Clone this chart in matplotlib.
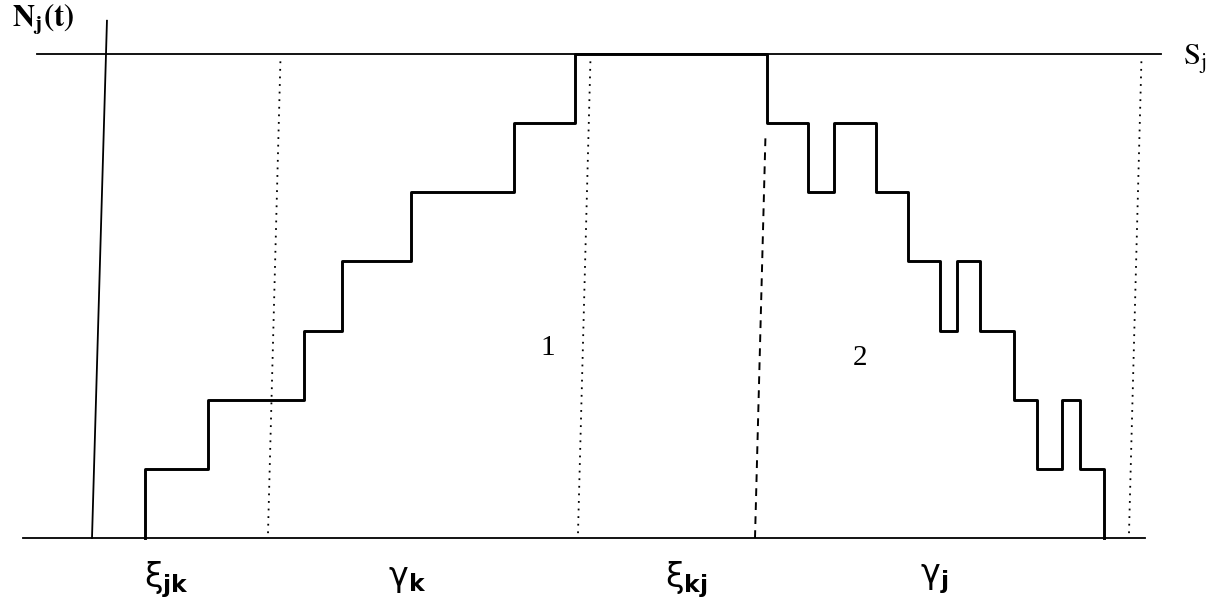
import matplotlib.pyplot as plt

plt.rcParams['mathtext.fontset'] = 'stix'
plt.rcParams['font.family'] = ['Liberation Serif', 'DejaVu Serif']

# Step path N_j(t): times of each jump and the level reached after it
jump_times = [145, 208, 304, 342, 411, 514, 575,
              767, 808, 834, 876, 908, 940, 957, 980, 1014, 1037, 1062, 1080, 1104]
jump_levels = [1, 2, 3, 4, 5, 6, 7,
               6, 5, 6, 5, 4, 3, 4, 3, 2, 1, 2, 1, 0]
S_j = 7

# Guide lines on the time axis
dotted_times = [268, 578, 1129]
dashed_time = 755
dashed_top = 5.85

# Labels on the time axis
interval_labels = [r'$\mathrm{\xi}_{\mathbf{jk}}$', r'$\mathrm{\gamma}_{\mathbf{k}}$',
                   r'$\mathrm{\xi}_{\mathbf{kj}}$', r'$\mathrm{\gamma}_{\mathbf{j}}$']
interval_pos = [167, 407, 686, 934]

# Region numbers
region_labels = ['1', '2']
region_pos = [(548, 2.75), (860, 2.6)]

lean = 1.8  # slight tilt of the scanned vertical lines (x units per level)

fig = plt.figure(figsize=(12.18, 6.03), dpi=100)
ax = fig.add_axes([0, 0, 1, 1])
ax.set_xlim(0, 1218)
ax.set_ylim(-0.94, 7.78)
ax.axis('off')

# axes
ax.plot([23, 1145], [0, 0], color='black', lw=1.3)
ax.plot([37, 1161], [S_j, S_j], color='black', lw=1.3)
ax.plot([92, 92 + 2.0 * 7.48], [0, 7.48], color='black', lw=1.3)

# dotted and dashed guides
for t in dotted_times:
    ax.plot([t, t + lean * 6.9], [0.07, 6.9], color='black', lw=1.3,
            linestyle=(0, (1, 3.2)))
ax.plot([dashed_time, dashed_time + lean * dashed_top], [0, dashed_top],
        color='black', lw=1.4, linestyle=(0, (4, 3.2)))

# staircase
xs = [jump_times[0]] + jump_times
ys = [0] + jump_levels
ax.step(xs, ys, where='post', color='black', lw=2.1)

# text
ax.text(12, 7.5, r'$\mathbf{N_j(t)}$', fontsize=22, ha='left', va='center')
ax.text(1183, S_j - 0.08, r'$\mathrm{S_j}$', fontsize=22, ha='left', va='center')
for lab, x in zip(interval_labels, interval_pos):
    ax.text(x, -0.6, lab, fontsize=24, ha='center', va='center',
            math_fontfamily='dejavusans')
for lab, (x, y) in zip(region_labels, region_pos):
    ax.text(x, y, lab, fontsize=21, ha='center', va='center')

fig.savefig('out.png', dpi=100)
plt.close()
